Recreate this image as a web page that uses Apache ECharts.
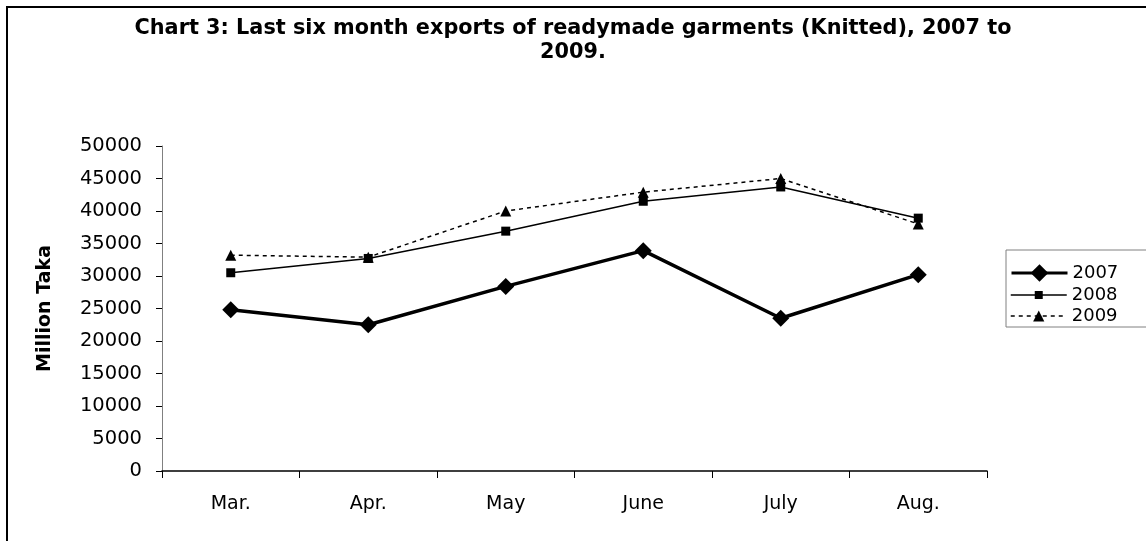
<!DOCTYPE html>
<html>
<head>
<meta charset="utf-8">
<script src="https://cdn.jsdelivr.net/npm/echarts@6/dist/echarts.min.js"></script>
<style>
  html, body { margin: 0; padding: 0; background: #fff; }
  #chart { width: 1146px; height: 541px; }
</style>
</head>
<body>
<div id="chart"></div>
<script>
// months on the x axis
var months = ["Mar.", "Apr.", "May", "June", "July", "Aug."];
// exports, million taka
var exports2007 = [24800, 22500, 28400, 33900, 23500, 30200];
var exports2008 = [30500, 32700, 36900, 41500, 43700, 38900];
var exports2009 = [33200, 32900, 40000, 42900, 45000, 38000];
var yTicks = [0, 5000, 10000, 15000, 20000, 25000, 30000, 35000, 40000, 45000, 50000];

var font = "DejaVu Sans";
var chart = echarts.init(document.getElementById("chart"));

// one legend per series so each icon keeps its own size
function legendFor(name, top, h, lineW) {
  return {
    orient: "vertical",
    left: 1010,
    top: top,
    itemWidth: 56,
    itemHeight: h,
    padding: 0,
    z: 5,
    textStyle: { fontFamily: font, fontSize: 18, color: "#000" },
    data: [{ name: name, lineStyle: { width: lineW } }]
  };
}

var option = {
  backgroundColor: "#fff",
  animation: false,
  title: {
    text: "Chart 3: Last six month exports of readymade garments (Knitted), 2007 to\n2009.",
    left: "center",
    top: 12,
    textStyle: {
      fontFamily: font,
      fontWeight: "bold",
      fontSize: 20.8,
      lineHeight: 24,
      color: "#000"
    }
  },
  // outer frame and legend box
  graphic: [
    {
      type: "rect",
      shape: { x: 7, y: 7, width: 1160, height: 560 },
      style: { fill: null, stroke: "#000", lineWidth: 2 },
      silent: true
    },
    {
      type: "rect",
      shape: { x: 1006, y: 250, width: 200, height: 77 },
      style: { fill: "#fff", stroke: "#808080", lineWidth: 1 },
      silent: true,
      z: 1
    }
  ],
  legend: [
    legendFor("2007", 264, 22, 3),
    legendFor("2008", 286, 10, 1.5),
    legendFor("2009", 307, 14, 1.5)
  ],
  grid: {
    left: 162,
    right: 159,
    top: 146,
    bottom: 70,
    containLabel: false
  },
  xAxis: {
    type: "category",
    data: months,
    boundaryGap: true,
    axisLine: { lineStyle: { color: "#000", width: 1.5 } },
    axisTick: { show: true, length: 7, lineStyle: { color: "#000" } },
    axisLabel: { fontFamily: font, fontSize: 19, color: "#000", margin: 24 },
    splitLine: { show: false }
  },
  yAxis: {
    type: "value",
    min: yTicks[0],
    max: yTicks[yTicks.length - 1],
    interval: 5000,
    name: "Million Taka",
    nameLocation: "middle",
    nameGap: 107,
    nameTextStyle: { fontFamily: font, fontWeight: "bold", fontSize: 19, color: "#000" },
    axisLine: { show: true, lineStyle: { color: "#808080", width: 1 } },
    axisTick: { show: true, length: 6, lineStyle: { color: "#000" } },
    axisLabel: {
      fontFamily: font,
      fontSize: 19.5,
      color: "#000",
      margin: 20,
      formatter: function (v) { return String(v); }
    },
    splitLine: { show: false }
  },
  series: [
    {
      name: "2007",
      type: "line",
      data: exports2007,
      symbol: "diamond",
      symbolSize: 17,
      lineStyle: { color: "#000", width: 3.5 },
      itemStyle: { color: "#000" }
    },
    {
      name: "2008",
      type: "line",
      data: exports2008,
      symbol: "rect",
      symbolSize: 9,
      lineStyle: { color: "#000", width: 1.5 },
      itemStyle: { color: "#000" }
    },
    {
      name: "2009",
      type: "line",
      data: exports2009,
      symbol: "triangle",
      symbolSize: 11,
      lineStyle: { color: "#000", width: 1.5, type: [4, 4] },
      itemStyle: { color: "#000" }
    }
  ]
};

chart.setOption(option);
window.onresize = chart.resize;
</script>
</body>
</html>
